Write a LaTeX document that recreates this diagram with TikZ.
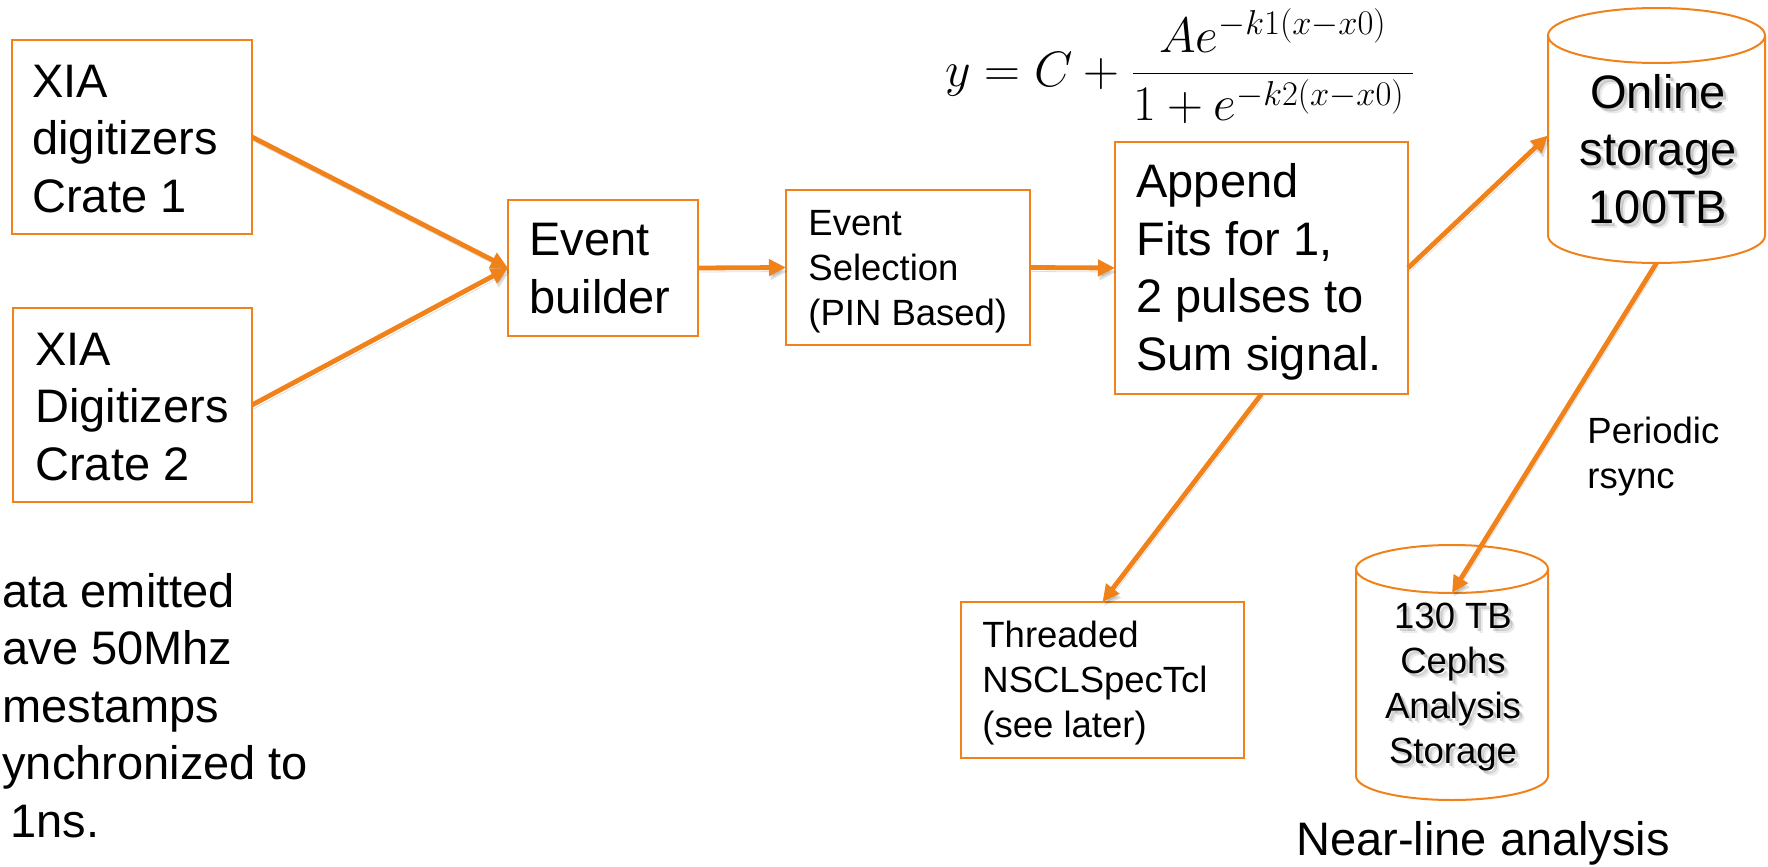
\documentclass[tikz,border=0pt]{standalone}
\usepackage{fontspec}
\setmainfont{Liberation Sans}
\usetikzlibrary{arrows.meta}
\definecolor{flow}{RGB}{240,130,25}

\begin{document}
\begin{tikzpicture}[x=0.5pt, y=-0.5pt,
  box/.style={draw=flow, line width=1pt, fill=white, inner sep=0pt, outer sep=0pt},
  cyl/.style={draw=flow, line width=1pt},
  holder/.style={inner sep=0pt, outer sep=0pt},
  big/.style={font=\fontsize{23.5pt}{28.75pt}\selectfont, inner sep=0pt},
  small/.style={font=\fontsize{18.25pt}{22.4pt}\selectfont, inner sep=0pt},
  ghost/.style={text=black, text opacity=#1},
  flowline/.style={draw=flow, line width=2.4pt, -{Triangle[length=8.5pt,width=8pt]},
    preaction={draw=black, opacity=0.13, transform canvas={xshift=0.75pt, yshift=-2pt}}},
]
\path[use as bounding box, fill=white] (0,0) rectangle (1768,867);

% process boxes
\node[box, minimum width=120pt,  minimum height=97pt]   (b1) at (132,137)    {};
\node[box, minimum width=119.5pt, minimum height=97pt]  (b2) at (132.5,405)  {};
\node[box, minimum width=95pt,   minimum height=68pt]   (eb) at (603,268)    {};
\node[box, minimum width=122pt,  minimum height=77.5pt] (es) at (908,267.5)  {};
\node[box, minimum width=146.5pt, minimum height=126pt] (ap) at (1261.5,268) {};
\node[box, minimum width=141.5pt, minimum height=78pt]  (th) at (1102.5,680) {};

% storage cylinders (holders give the outline and the anchors)
\node[holder, minimum width=108.5pt, minimum height=127.5pt] (on) at (1656.5,135.5) {};
\node[holder, minimum width=96pt,    minimum height=127.5pt] (ce) at (1452,672.5)   {};

\draw[cyl, fill=white] ([yshift=-13.75pt]on.north west) -- ([yshift=13.75pt]on.south west)
  arc[start angle=180, end angle=360, x radius=54.25pt, y radius=13.75pt]
  -- ([yshift=-13.75pt]on.north east)
  arc[start angle=0, end angle=180, x radius=54.25pt, y radius=13.75pt] -- cycle;
\draw[cyl] ([yshift=-13.75pt]on.north west)
  arc[start angle=180, end angle=360, x radius=54.25pt, y radius=13.75pt];

\draw[cyl, fill=white] ([yshift=-12pt]ce.north west) -- ([yshift=12pt]ce.south west)
  arc[start angle=180, end angle=360, x radius=48pt, y radius=12pt]
  -- ([yshift=-12pt]ce.north east)
  arc[start angle=0, end angle=180, x radius=48pt, y radius=12pt] -- cycle;
\draw[cyl] ([yshift=-12pt]ce.north west)
  arc[start angle=180, end angle=360, x radius=48pt, y radius=12pt];

% texts (anchored at the baseline of their last line)
\node[big, anchor=base west, align=left] (t1) at (32,212)  {XIA\\digitizers\\Crate 1};
\node[big, anchor=base west, align=left] (t2) at (35,480)  {XIA\\Digitizers\\Crate 2};
\node[big, anchor=base west, align=left] (t3) at (529,313) {Event\\builder};
\node[small, anchor=base west, align=left] (t4) at (808,325) {Event\\Selection\\(PIN Based)};
\node[big, anchor=base west, align=left] (t5) at (1136,370) {Append\\Fits for 1,\\2 pulses to\\Sum signal.};
\node[small, anchor=base west, align=left] (t6) at (982,737) {Threaded\\NSCLSpecTcl\\(see later)};

% storage labels with a soft drop shadow
\node[big, anchor=base, align=center, ghost=0.08] (t7b) at (1663,228) {Online\\storage\\100TB};
\node[big, anchor=base, align=center, ghost=0.16] (t7a) at (1661,226) {Online\\storage\\100TB};
\node[big, anchor=base, align=center] (t7) at (1658,223) {Online\\storage\\100TB};

\node[small, anchor=base, align=center, ghost=0.08] (t8b) at (1458,768) {130 TB\\Cephs\\Analysis\\Storage};
\node[small, anchor=base, align=center, ghost=0.16] (t8a) at (1456,766) {130 TB\\Cephs\\Analysis\\Storage};
\node[small, anchor=base, align=center] (t8) at (1453,763) {130 TB\\Cephs\\Analysis\\Storage};

\node[small, anchor=base west, align=left] (t9) at (1587,488) {Periodic\\rsync};
\node[big, anchor=base west] (t10) at (1296,855) {Near-line analysis};
\node[big, anchor=base west, align=left] (t11) at (2,837)
  {ata emitted\\ave 50Mhz\\mestamps\\ynchronized to\\\hspace*{4pt}1ns.};

% fit function
\node[anchor=base west, inner sep=0pt, font=\fontsize{25pt}{30pt}\selectfont] (fx) at (945,86)
  {$\displaystyle y = C + \frac{Ae^{-k1(x-x0)}}{1+e^{-k2(x-x0)}\,}$};

% data flow
\draw[flowline] (b1.east) -- (eb.west);
\draw[flowline] (b2.east) -- (eb.west);
\draw[flowline] (eb.east) -- (es.west);
\draw[flowline] (es.east) -- (ap.west);
\draw[flowline] (ap.east) -- (on.west);
\draw[flowline] (ap.south) -- (th.north);
\draw[flowline] (on.south) -- ([yshift=-24pt]ce.north);
\end{tikzpicture}
\end{document}
